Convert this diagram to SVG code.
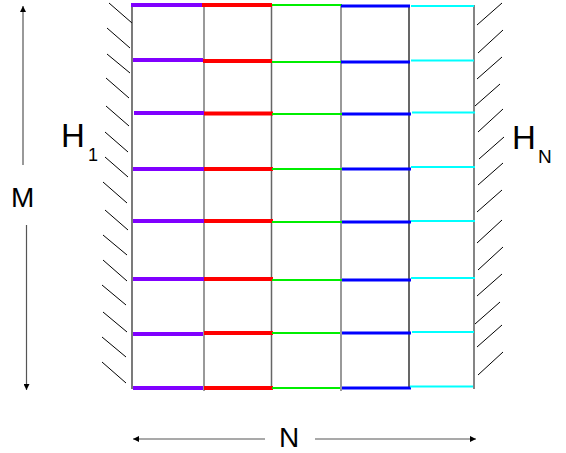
<svg xmlns="http://www.w3.org/2000/svg" width="566" height="453" viewBox="0 0 566 453">
<style>
.lbl{font-family:"Liberation Sans",Arial,sans-serif;fill:#000}
.hatch line{stroke:#000;stroke-width:1}
.vline{fill:none}
.pu{stroke:#8000ff;stroke-width:4}
.re{stroke:#ff0000;stroke-width:4}
.gr{stroke:#00ee00;stroke-width:2}
.bl{stroke:#0000ff;stroke-width:3}
.cy{stroke:#00ffff;stroke-width:2}
.arr{stroke:#555;stroke-width:1.2;fill:none}
</style>
<defs>
<marker id="ah" viewBox="0 0 10 10" refX="10" refY="5" markerWidth="10" markerHeight="6" markerUnits="userSpaceOnUse" orient="auto">
<path d="M0,0 L10,5 L0,10 Z" fill="#000"/>
</marker>
</defs>
<rect width="566" height="453" fill="#fff"/>

<g id="wall-left" class="hatch">
<line x1="109" y1="3" x2="132" y2="23"/>
<line x1="107" y1="28" x2="130" y2="48"/>
<line x1="107" y1="54" x2="130" y2="73"/>
<line x1="106" y1="78" x2="129" y2="98"/>
<line x1="106" y1="106" x2="129" y2="126"/>
<line x1="105" y1="132" x2="128" y2="152"/>
<line x1="105" y1="157" x2="128" y2="177"/>
<line x1="103" y1="182" x2="127" y2="203"/>
<line x1="105" y1="210" x2="128" y2="230"/>
<line x1="103" y1="235" x2="127" y2="255"/>
<line x1="103" y1="260" x2="127" y2="281"/>
<line x1="102" y1="285" x2="126" y2="305"/>
<line x1="103" y1="312" x2="127" y2="332"/>
<line x1="102" y1="337" x2="126" y2="357"/>
<line x1="102" y1="362" x2="126" y2="383"/>
</g>

<g id="wall-right" class="hatch">
<line x1="477" y1="25" x2="502" y2="3"/>
<line x1="478" y1="53" x2="503" y2="30"/>
<line x1="477" y1="79" x2="502" y2="57"/>
<line x1="475" y1="106" x2="500" y2="84"/>
<line x1="478" y1="132" x2="503" y2="109"/>
<line x1="479" y1="159" x2="504" y2="137"/>
<line x1="478" y1="185" x2="503" y2="163"/>
<line x1="477" y1="212" x2="502" y2="190"/>
<line x1="477" y1="243" x2="502" y2="220"/>
<line x1="478" y1="270" x2="503" y2="247"/>
<line x1="477" y1="296" x2="502" y2="274"/>
<line x1="475" y1="324" x2="500" y2="302"/>
<line x1="477" y1="347" x2="502" y2="325"/>
<line x1="478" y1="375" x2="503" y2="352"/>
</g>

<g id="grid-verticals">
<line x1="132" y1="5" x2="132" y2="389" stroke="#222" stroke-width="1.2"/>
<line x1="204" y1="5" x2="204" y2="391" stroke="#777" stroke-width="1.5"/>
<line x1="271.5" y1="5" x2="271.5" y2="389" stroke="#666" stroke-width="1.5"/>
<line x1="341" y1="5" x2="341" y2="391" stroke="#777" stroke-width="1.5"/>
<line x1="409" y1="5" x2="409" y2="389" stroke="#000" stroke-width="1.2"/>
<line x1="474" y1="5" x2="474" y2="389" stroke="#333" stroke-width="1.2"/>
</g>

<g id="connectors">
<g class="pu">
<line x1="131" y1="5" x2="202" y2="5"/>
<line x1="133" y1="60" x2="203" y2="60"/>
<line x1="134" y1="113" x2="204" y2="113"/>
<line x1="133" y1="169" x2="204" y2="169"/>
<line x1="133" y1="221" x2="204" y2="221"/>
<line x1="133" y1="279" x2="204" y2="279"/>
<line x1="133" y1="334" x2="203" y2="334"/>
<line x1="133" y1="388" x2="203" y2="388"/>
</g>
<g class="re">
<line x1="202" y1="5" x2="272" y2="5"/>
<line x1="203" y1="61" x2="272" y2="61"/>
<line x1="204" y1="113.5" x2="273" y2="113.5"/>
<line x1="204" y1="169" x2="273" y2="169"/>
<line x1="204" y1="221" x2="273" y2="221"/>
<line x1="204" y1="279" x2="273" y2="279"/>
<line x1="204" y1="333" x2="273" y2="333"/>
<line x1="204" y1="388" x2="273" y2="388"/>
</g>
<g class="gr">
<line x1="272" y1="5" x2="342" y2="5"/>
<line x1="272" y1="62" x2="342" y2="62"/>
<line x1="272" y1="114" x2="342" y2="114"/>
<line x1="272" y1="169" x2="342" y2="169"/>
<line x1="272" y1="222" x2="342" y2="222"/>
<line x1="272" y1="280" x2="342" y2="280"/>
<line x1="272" y1="333" x2="340" y2="333"/>
<line x1="272" y1="388" x2="340" y2="388"/>
</g>
<g class="bl">
<line x1="341" y1="6" x2="410" y2="6"/>
<line x1="341" y1="62" x2="410" y2="62"/>
<line x1="342" y1="114" x2="411" y2="114"/>
<line x1="342" y1="169" x2="411" y2="169"/>
<line x1="342" y1="222" x2="411" y2="222"/>
<line x1="342" y1="280" x2="411" y2="280"/>
<line x1="342" y1="333" x2="411" y2="333"/>
<line x1="342" y1="388" x2="411" y2="388"/>
</g>
<g class="cy">
<line x1="411" y1="6" x2="474" y2="6"/>
<line x1="411" y1="60.5" x2="474" y2="60.5"/>
<line x1="412" y1="112.5" x2="475" y2="112.5"/>
<line x1="411" y1="167" x2="475" y2="167"/>
<line x1="411" y1="221" x2="475" y2="221"/>
<line x1="411" y1="278" x2="475" y2="278"/>
<line x1="412" y1="332" x2="474" y2="332"/>
<line x1="410" y1="386.5" x2="473" y2="386.5"/>
</g>
</g>

<g id="arrow-M">
<line class="arr" x1="23" y1="165" x2="23" y2="6" marker-end="url(#ah)"/>
<line class="arr" x1="26.5" y1="225" x2="26.5" y2="390" marker-end="url(#ah)"/>
</g>
<g id="arrow-N">
<line class="arr" x1="265" y1="439" x2="133" y2="439" marker-end="url(#ah)"/>
<line class="arr" x1="315" y1="439" x2="476" y2="439" marker-end="url(#ah)"/>
</g>

<g id="label-H1">
<text class="lbl" x="61" y="147" font-size="33">H</text>
<text class="lbl" x="88" y="161" font-size="18">1</text>
</g>
<g id="label-HN">
<text class="lbl" x="512" y="149" font-size="33">H</text>
<text class="lbl" x="538" y="163" font-size="19">N</text>
</g>
<g id="label-M">
<text class="lbl" x="11" y="207" font-size="28">M</text>
</g>
<g id="label-N">
<text class="lbl" x="279" y="447" font-size="28">N</text>
</g>
</svg>
